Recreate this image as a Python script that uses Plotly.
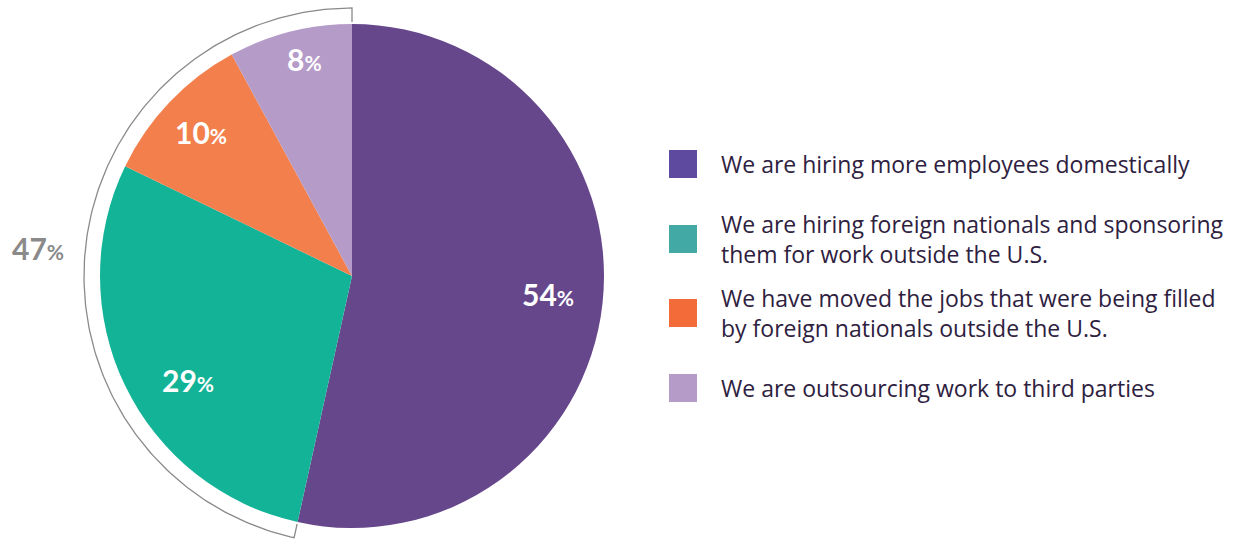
import numpy as np
import plotly.graph_objects as go

# Survey responses (share of respondents, %)
categories = [
    "We are hiring more employees domestically",
    "We are hiring foreign nationals and sponsoring them for work outside the U.S.",
    "We have moved the jobs that were being filled by foreign nationals outside the U.S.",
    "We are outsourcing work to third parties",
]
legend_lines = [
    ["We are hiring more employees domestically"],
    ["We are hiring foreign nationals and sponsoring", "them for work outside the U.S."],
    ["We have moved the jobs that were being filled", "by foreign nationals outside the U.S."],
    ["We are outsourcing work to third parties"],
]
values = [54, 29, 10, 8]
bracket_label = "47"

# Styling
W, H = 1251, 541
pie_colors = ["#66478c", "#12b396", "#f27f4c", "#b59bc8"]
legend_colors = ["#5e4a9e", "#43a9a5", "#f26b38", "#b59bc8"]
text_color = "#2e2140"
bracket_color = "#8a8a8a"
LABEL_FONT = "Lato"
LEGEND_FONT = "Open Sans"

cx, cy, R = 352, 276, 252          # pie centre / radius in pixels
label_rfrac = [0.78, 0.77, 0.83, 0.88]
label_nudge = [1.0, 6.5, 0.0, -2.0]  # degrees, counter-clockwise

fig = go.Figure()

fig.add_trace(go.Pie(
    values=values,
    labels=categories,
    marker=dict(colors=pie_colors, line=dict(width=0)),
    sort=False,
    direction="clockwise",
    rotation=0,
    textinfo="none",
    hoverinfo="label+value",
    showlegend=False,
    domain=dict(x=[(cx - R) / W, (cx + R) / W],
                y=[(H - cy - R) / H, (H - cy + R) / H]),
))

# Slice labels
total = sum(values)
cum = 0
for i, v in enumerate(values):
    mid = (cum + v / 2) / total * 2 * np.pi  # clockwise from 12 o'clock
    cum += v
    mid -= np.deg2rad(label_nudge[i])
    r = label_rfrac[i] * R
    x = cx + r * np.sin(mid)
    y = cy - r * np.cos(mid)
    fig.add_annotation(
        x=x, y=y, xref="x", yref="y", showarrow=False,
        text=f"<b>{v}</b><b><span style='font-size:21px'>%</span></b>",
        font=dict(family=LABEL_FONT, size=30, color="white"),
        xanchor="center", yanchor="middle",
    )

# Bracket around all slices after the first
rb = 268
start = values[0] / total * 2 * np.pi
theta = np.linspace(start, 2 * np.pi, 200)
bx = list(cx + rb * np.sin(theta))
by = list(cy - rb * np.cos(theta))
tick_in = 254
bx = [cx + tick_in * np.sin(start)] + bx + [cx + tick_in * np.sin(2 * np.pi)]
by = [cy - tick_in * np.cos(start)] + by + [cy - tick_in * np.cos(2 * np.pi)]
fig.add_trace(go.Scatter(
    x=bx, y=by, mode="lines",
    line=dict(color=bracket_color, width=1.3),
    hoverinfo="skip", showlegend=False,
))
fig.add_annotation(
    x=38, y=248, xref="x", yref="y", showarrow=False,
    text=f"<b>{bracket_label}</b><b><span style='font-size:21px'>%</span></b>",
    font=dict(family=LABEL_FONT, size=30, color=bracket_color),
    xanchor="center", yanchor="middle",
)

# Legend drawn by hand
sq_x0, sq_x1 = 669, 697
text_x = 719
row_centres = [164, 239, 313, 388]
for lines, col, yc in zip(legend_lines, legend_colors, row_centres):
    fig.add_shape(type="rect", xref="x", yref="y",
                  x0=sq_x0, x1=sq_x1, y0=yc - 14, y1=yc + 14,
                  fillcolor=col, line=dict(width=0))
    fig.add_annotation(
        x=text_x, y=yc, xref="x", yref="y", showarrow=False,
        text="<br>".join(lines), align="left",
        font=dict(family=LEGEND_FONT, size=23, color=text_color),
        xanchor="left", yanchor="middle",
    )

fig.update_layout(
    width=W, height=H,
    margin=dict(l=0, r=0, t=0, b=0),
    paper_bgcolor="white", plot_bgcolor="white",
    xaxis=dict(range=[0, W], visible=False, fixedrange=True),
    yaxis=dict(range=[H, 0], visible=False, fixedrange=True),
)

fig.write_html("out.html")
